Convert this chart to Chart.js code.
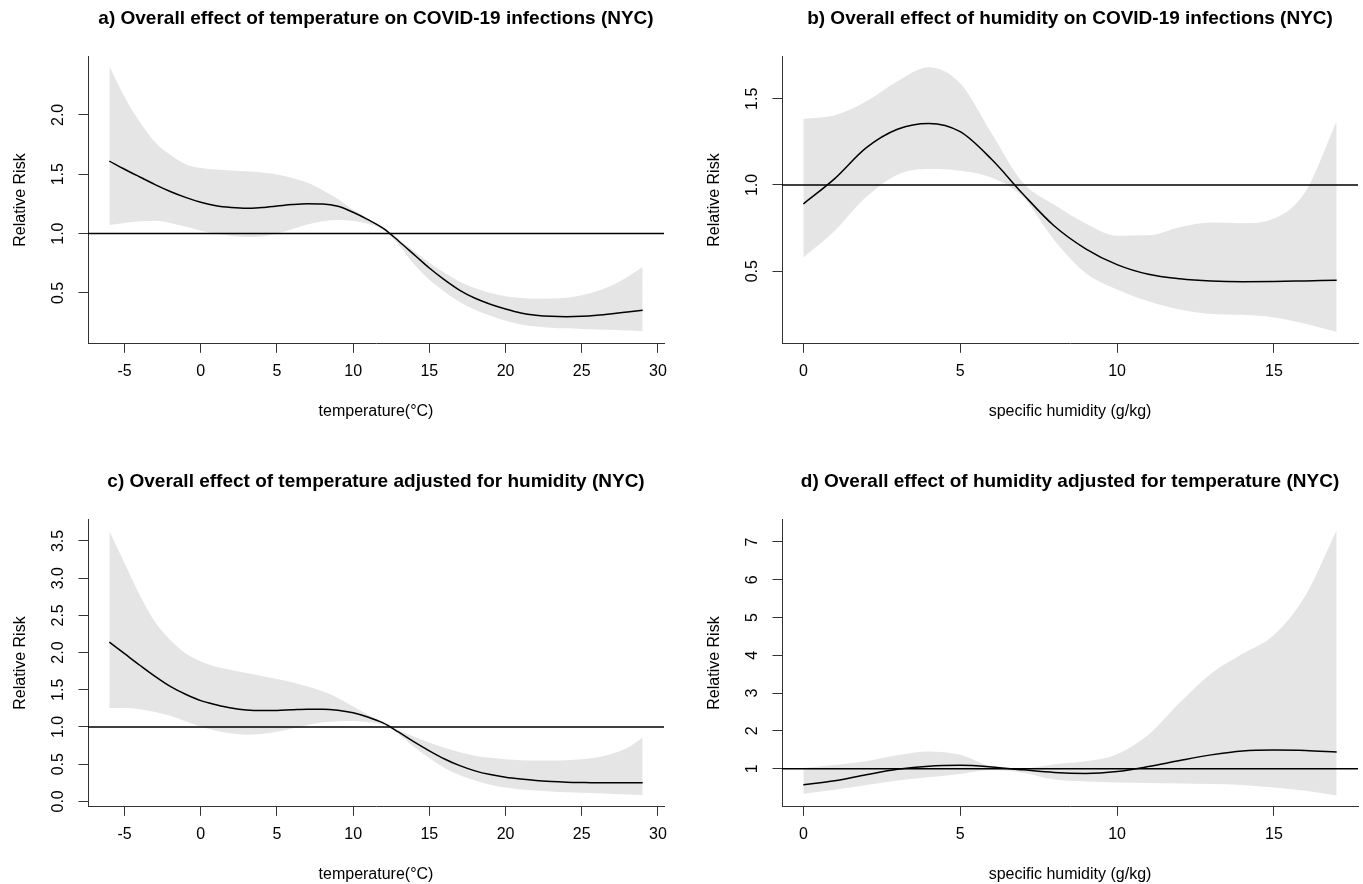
<!DOCTYPE html>
<html>
<head>
<meta charset="utf-8">
<title>Overall effect of temperature and humidity on COVID-19 infections (NYC)</title>
<script src="https://cdn.jsdelivr.net/npm/chart.js@4.4.1/dist/chart.umd.min.js"></script>
<style>
  html, body { margin: 0; padding: 0; background: #fff; }
  body { width: 1363px; height: 884px; position: relative; overflow: hidden; }
  canvas { position: absolute; }
</style>
</head>
<body>
<canvas id="chart-a" width="680" height="440" style="left:0px;top:0px"></canvas>
<canvas id="chart-b" width="680" height="440" style="left:694px;top:0px"></canvas>
<canvas id="chart-c" width="680" height="440" style="left:0px;top:463px"></canvas>
<canvas id="chart-d" width="680" height="440" style="left:694px;top:463px"></canvas>
<script>
// x values (temperature in °C, specific humidity in g/kg)
const temperature = [-6, -5, -4, -3, -2, -1, 0, 1, 2, 3, 4, 5, 6, 7, 8, 9, 10, 11,
    12, 13, 14, 15, 16, 17, 18, 19, 20, 21, 22, 23, 24, 25, 26, 27, 28, 29];
const humidity = [0, 1, 2, 3, 4, 5, 6, 7, 8, 9, 10, 11, 12, 13, 14, 15, 16, 17];

// a) temperature
const tempRR = [1.61, 1.542, 1.477, 1.413, 1.355, 1.305, 1.264, 1.235, 1.22, 1.213, 1.22, 1.232,
    1.245, 1.252, 1.25, 1.23, 1.18, 1.116, 1.042, 0.936, 0.823, 0.71, 0.61, 0.522,
    0.455, 0.405, 0.365, 0.332, 0.313, 0.303, 0.300, 0.303, 0.312, 0.325, 0.34, 0.355];
const tempHigh = [2.41, 2.15, 1.94, 1.77, 1.665, 1.585, 1.552, 1.54, 1.532, 1.525, 1.514, 1.498,
    1.468, 1.428, 1.366, 1.292, 1.2, 1.122, 1.052, 0.95, 0.854, 0.755, 0.67, 0.595,
    0.54, 0.5, 0.473, 0.458, 0.452, 0.453, 0.46, 0.48, 0.515, 0.565, 0.635, 0.718];
const tempLow = [1.073, 1.09, 1.103, 1.108, 1.09, 1.06, 1.025, 0.998, 0.982, 0.972, 0.976, 1.0,
    1.036, 1.076, 1.104, 1.115, 1.107, 1.082, 1.03, 0.905, 0.742, 0.611, 0.51, 0.423,
    0.358, 0.307, 0.265, 0.235, 0.218, 0.208, 0.202, 0.197, 0.193, 0.19, 0.183, 0.177];

// b) humidity
const humRR = [0.89, 1.037, 1.215, 1.323, 1.357, 1.309, 1.149, 0.948, 0.762, 0.63, 0.538, 0.482,
    0.456, 0.443, 0.439, 0.44, 0.444, 0.448];
const humHigh = [1.383, 1.404, 1.484, 1.602, 1.683, 1.59, 1.3, 1.013, 0.885, 0.777, 0.706, 0.708,
    0.755, 0.782, 0.778, 0.805, 0.96, 1.37];
const humLow = [0.58, 0.735, 0.93, 1.06, 1.093, 1.083, 1.043, 0.93, 0.68, 0.49, 0.394, 0.326,
    0.278, 0.252, 0.247, 0.232, 0.195, 0.147];

// c) temperature adjusted for humidity
const tempAdjRR = [2.14, 1.985, 1.83, 1.68, 1.545, 1.44, 1.354, 1.30, 1.255, 1.228, 1.22, 1.222,
    1.232, 1.24, 1.24, 1.225, 1.19, 1.132, 1.052, 0.93, 0.80, 0.68, 0.57, 0.48,
    0.41, 0.36, 0.325, 0.30, 0.28, 0.267, 0.258, 0.253, 0.25, 0.25, 0.25, 0.252];
const tempAdjHigh = [3.63, 3.2, 2.77, 2.41, 2.17, 1.99, 1.88, 1.81, 1.765, 1.725, 1.685, 1.645,
    1.6, 1.545, 1.48, 1.39, 1.275, 1.16, 1.065, 0.955, 0.87, 0.79, 0.72, 0.66,
    0.615, 0.585, 0.565, 0.553, 0.548, 0.548, 0.553, 0.565, 0.59, 0.64, 0.72, 0.86];
const tempAdjLow = [1.255, 1.255, 1.24, 1.2, 1.15, 1.076, 1.005, 0.95, 0.912, 0.897, 0.905, 0.935,
    0.98, 1.025, 1.062, 1.078, 1.08, 1.063, 1.03, 0.9, 0.73, 0.58, 0.45, 0.35,
    0.28, 0.225, 0.185, 0.16, 0.145, 0.132, 0.122, 0.115, 0.108, 0.1, 0.092, 0.085];

// d) humidity adjusted for temperature
const humAdjRR = [0.576, 0.68, 0.84, 0.985, 1.068, 1.09, 1.048, 0.97, 0.9, 0.876, 0.926, 1.056,
    1.218, 1.366, 1.47, 1.494, 1.484, 1.44];
const humAdjHigh = [1.018, 1.1, 1.2, 1.355, 1.455, 1.37, 1.06, 1.01, 1.12, 1.195, 1.385, 1.9,
    2.75, 3.52, 4.04, 4.54, 5.58, 7.32];
const humAdjLow = [0.338, 0.44, 0.57, 0.69, 0.775, 0.86, 0.965, 0.895, 0.712, 0.664, 0.638, 0.622,
    0.61, 0.595, 0.569, 0.5, 0.414, 0.294];

// tick labels
const tempTicks = [-5, 0, 5, 10, 15, 20, 25, 30];
const humTicks = [0, 5, 10, 15];
const ticksA = [0.5, 1.0, 1.5, 2.0];
const ticksB = [0.5, 1.0, 1.5];
const ticksC = [0.0, 0.5, 1.0, 1.5, 2.0, 2.5, 3.0, 3.5];
const ticksD = [1, 2, 3, 4, 5, 6, 7];

Chart.defaults.font.family = '"Liberation Sans", Arial, Helvetica, sans-serif';
Chart.defaults.font.size = 16;
Chart.defaults.color = '#000';

const bandColor = '#e5e5e5';
const axisColor = '#333';

function toPoints(xs, ys) {
    return xs.map((x, i) => ({ x: x, y: ys[i] }));
}

function makePanel(id, p) {
    const ctx = document.getElementById(id).getContext('2d');
    return new Chart(ctx, {
        type: 'line',
        data: {
            datasets: [
                {
                    label: 'RR',
                    data: toPoints(p.x, p.rr),
                    borderColor: '#000',
                    borderWidth: 1.5,
                    pointRadius: 0,
                    fill: false,
                    cubicInterpolationMode: 'monotone'
                },
                {
                    label: 'ref',
                    data: [{ x: p.xMin, y: 1 }, { x: p.xMax, y: 1 }],
                    borderColor: '#000',
                    borderWidth: 1.5,
                    pointRadius: 0,
                    fill: false
                },
                {
                    label: 'upper',
                    data: toPoints(p.x, p.high),
                    borderColor: 'rgba(0,0,0,0)',
                    borderWidth: 0,
                    pointRadius: 0,
                    backgroundColor: bandColor,
                    fill: '+1',
                    cubicInterpolationMode: 'monotone'
                },
                {
                    label: 'lower',
                    data: toPoints(p.x, p.low),
                    borderColor: 'rgba(0,0,0,0)',
                    borderWidth: 0,
                    pointRadius: 0,
                    fill: false,
                    cubicInterpolationMode: 'monotone'
                }
            ]
        },
        options: {
            responsive: false,
            animation: false,
            devicePixelRatio: 1,
            layout: { padding: { left: 0, right: 16, top: 0, bottom: 0 } },
            plugins: {
                legend: { display: false },
                tooltip: { enabled: false },
                title: {
                    display: true,
                    text: p.title,
                    fullSize: false,
                    color: '#000',
                    font: { size: 19, weight: 'bold' },
                    padding: { top: 7, bottom: 26.9 }
                }
            },
            scales: {
                x: {
                    type: 'linear',
                    min: p.xMin,
                    max: p.xMax,
                    afterBuildTicks: s => { s.ticks = p.xTicks.map(v => ({ value: v })); },
                    afterFit: s => { s.height = 96.7; },
                    grid: { drawOnChartArea: false, drawTicks: true, tickLength: 9.5, color: axisColor },
                    border: { display: true, color: axisColor, width: 1 },
                    ticks: { padding: 9.6, maxRotation: 0, autoSkip: false, color: '#000' },
                    title: { display: true, text: p.xTitle, color: '#000', padding: { top: 0, bottom: 18.4 } }
                },
                y: {
                    type: 'linear',
                    min: p.yMin,
                    max: p.yMax,
                    afterBuildTicks: s => { s.ticks = p.yTicks.map(v => ({ value: v })); },
                    afterFit: s => { s.width = 88; },
                    grid: { drawOnChartArea: false, drawTicks: true, tickLength: 9.5, color: axisColor },
                    border: { display: true, color: axisColor, width: 1 },
                    ticks: {
                        minRotation: 90,
                        maxRotation: 90,
                        crossAlign: 'center',
                        padding: p.yPad,
                        autoSkip: false,
                        color: '#000',
                        callback: v => p.decimals ? v.toFixed(1) : String(v)
                    },
                    title: { display: true, text: 'Relative Risk', color: '#000', padding: { top: 11, bottom: 0 } }
                }
            }
        }
    });
}

makePanel('chart-a', {
    title: 'a) Overall effect of temperature on COVID-19 infections (NYC)',
    xTitle: 'temperature(°C)',
    x: temperature, rr: tempRR, high: tempHigh, low: tempLow,
    xMin: -7.4, xMax: 30.4, xTicks: tempTicks,
    yMin: 0.076, yMax: 2.49, yTicks: ticksA, decimals: true, yPad: 8.4
});

makePanel('chart-b', {
    title: 'b) Overall effect of humidity on COVID-19 infections (NYC)',
    xTitle: 'specific humidity (g/kg)',
    x: humidity, rr: humRR, high: humHigh, low: humLow,
    xMin: -0.68, xMax: 17.68, xTicks: humTicks,
    yMin: 0.082, yMax: 1.744, yTicks: ticksB, decimals: true, yPad: 8.4
});

makePanel('chart-c', {
    title: 'c) Overall effect of temperature adjusted for humidity (NYC)',
    xTitle: 'temperature(°C)',
    x: temperature, rr: tempAdjRR, high: tempAdjHigh, low: tempAdjLow,
    xMin: -7.4, xMax: 30.4, xTicks: tempTicks,
    yMin: -0.066, yMax: 3.786, yTicks: ticksC, decimals: true, yPad: 8.4
});

makePanel('chart-d', {
    title: 'd) Overall effect of humidity adjusted for temperature (NYC)',
    xTitle: 'specific humidity (g/kg)',
    x: humidity, rr: humAdjRR, high: humAdjHigh, low: humAdjLow,
    xMin: -0.68, xMax: 17.68, xTicks: humTicks,
    yMin: 0.005, yMax: 7.59, yTicks: ticksD, decimals: false, yPad: 15
});
</script>
</body>
</html>
